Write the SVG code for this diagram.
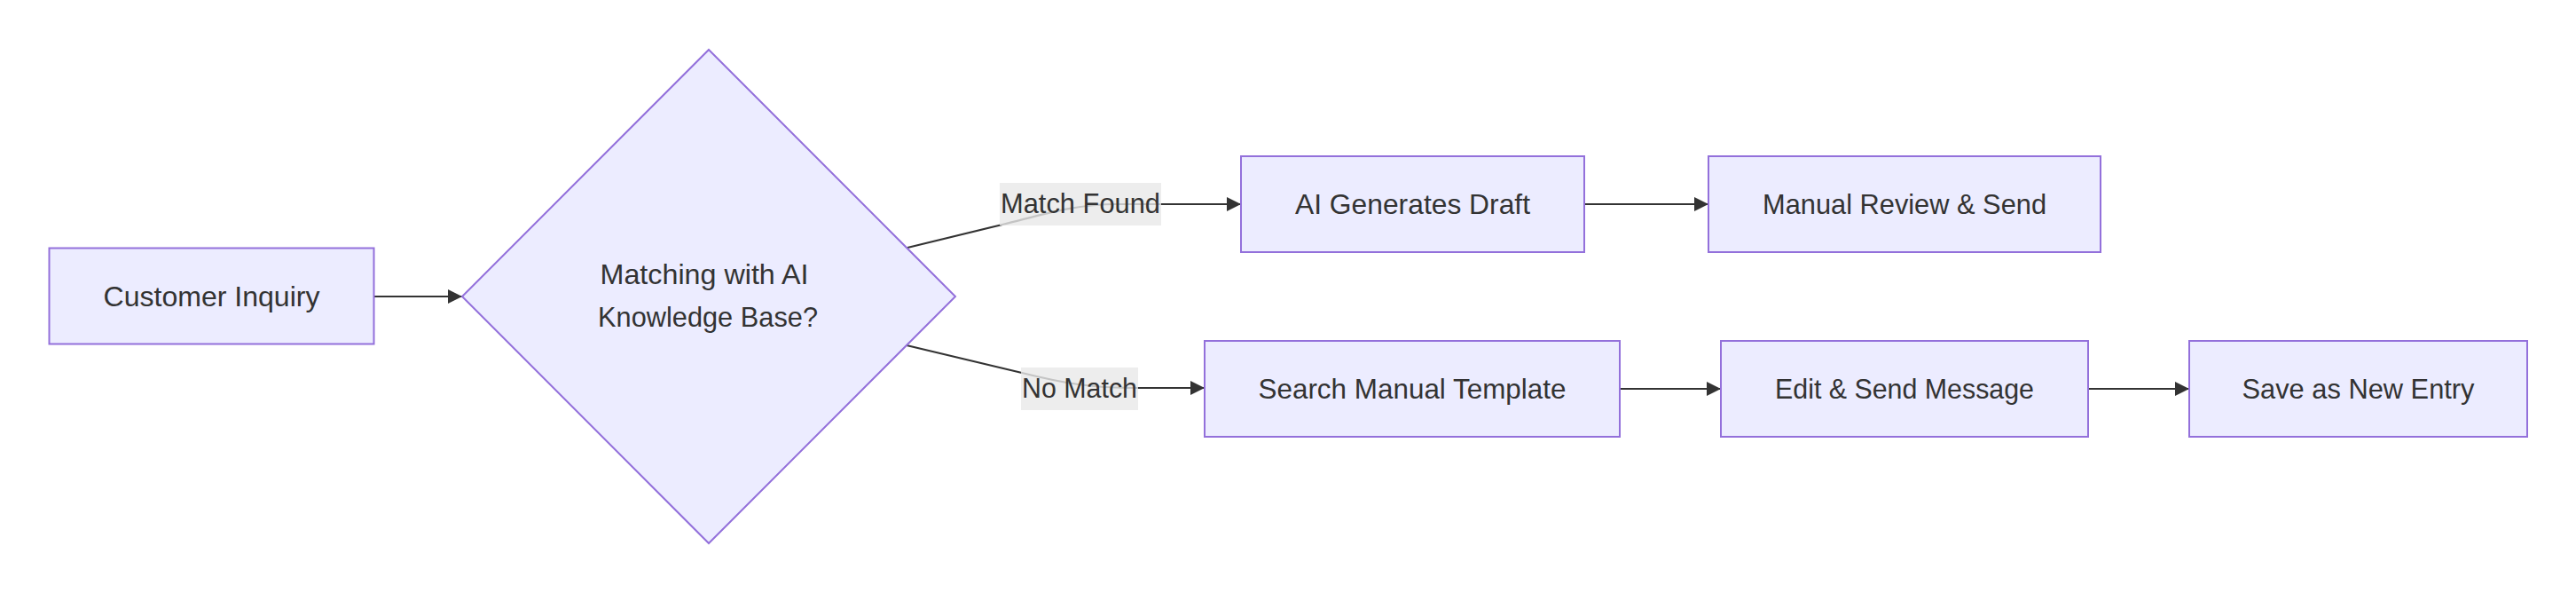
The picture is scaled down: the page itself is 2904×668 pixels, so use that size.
<svg xmlns="http://www.w3.org/2000/svg" width="2904" height="668" viewBox="0 0 2904 668">
<style>
.node{fill:#ECECFF;stroke:#9370DB;stroke-width:2}
.lbl{font-family:"Liberation Sans",Arial,sans-serif;font-size:32px;fill:#333333;text-anchor:middle}
.edge{fill:none;stroke:#333333;stroke-width:2.2}
.ebg{fill:#e8e8e8;fill-opacity:0.8}
</style>
<defs>
<marker id="arrow" viewBox="0 0 10 10" refX="10" refY="5" markerUnits="userSpaceOnUse" markerWidth="16" markerHeight="16" orient="auto">
<path d="M0,0 L10,5 L0,10 z" fill="#333333"/>
</marker>
</defs>
<rect width="2904" height="668" fill="#ffffff"/>
<g id="connectors">
<path class="edge" d="M421.5,334 L521,334" marker-end="url(#arrow)"/>
<path class="edge" d="M1023,279 L1130,253 C1175,242 1210,230 1260,230 L1399,230" marker-end="url(#arrow)"/>
<path class="edge" d="M1022,389 L1152,420 C1200,432 1230,437 1283,437 L1358,437" marker-end="url(#arrow)"/>
<path class="edge" d="M1786,230 L1926,230" marker-end="url(#arrow)"/>
<path class="edge" d="M1826,438 L1940,438" marker-end="url(#arrow)"/>
<path class="edge" d="M2354,438 L2468,438" marker-end="url(#arrow)"/>
</g>
<g id="edge-labels">
<g id="label-match-found">
<rect class="ebg" x="1127" y="206" width="182" height="48"/>
<text class="lbl" x="1218" y="240" textLength="180" lengthAdjust="spacingAndGlyphs">Match Found</text>
</g>
<g id="label-no-match">
<rect class="ebg" x="1151" y="414" width="132" height="48"/>
<text class="lbl" x="1217" y="448" textLength="130" lengthAdjust="spacingAndGlyphs">No Match</text>
</g>
</g>
<g id="node-customer-inquiry">
<rect class="node" x="55.5" y="279.5" width="366" height="108"/>
<text class="lbl" x="238.5" y="344.5" textLength="244" lengthAdjust="spacingAndGlyphs">Customer Inquiry</text>
</g>
<g id="node-matching">
<polygon class="node" points="799,56 1077,334 799,612 521,334"/>
<text class="lbl" x="794" y="319.5" textLength="235" lengthAdjust="spacingAndGlyphs">Matching with AI</text>
<text class="lbl" x="798" y="367.5" textLength="248" lengthAdjust="spacingAndGlyphs">Knowledge Base?</text>
</g>
<g id="node-ai-draft">
<rect class="node" x="1399" y="176" width="387" height="108"/>
<text class="lbl" x="1592.5" y="241" textLength="265" lengthAdjust="spacingAndGlyphs">AI Generates Draft</text>
</g>
<g id="node-manual-review">
<rect class="node" x="1926" y="176" width="442" height="108"/>
<text class="lbl" x="2147" y="241" textLength="320" lengthAdjust="spacingAndGlyphs">Manual Review &amp; Send</text>
</g>
<g id="node-search-template">
<rect class="node" x="1358" y="384" width="468" height="108"/>
<text class="lbl" x="1592" y="449" textLength="347" lengthAdjust="spacingAndGlyphs">Search Manual Template</text>
</g>
<g id="node-edit-send">
<rect class="node" x="1940" y="384" width="414" height="108"/>
<text class="lbl" x="2147" y="449" textLength="292" lengthAdjust="spacingAndGlyphs">Edit &amp; Send Message</text>
</g>
<g id="node-save-entry">
<rect class="node" x="2468" y="384" width="381" height="108"/>
<text class="lbl" x="2658.5" y="449" textLength="262" lengthAdjust="spacingAndGlyphs">Save as New Entry</text>
</g>
</svg>
